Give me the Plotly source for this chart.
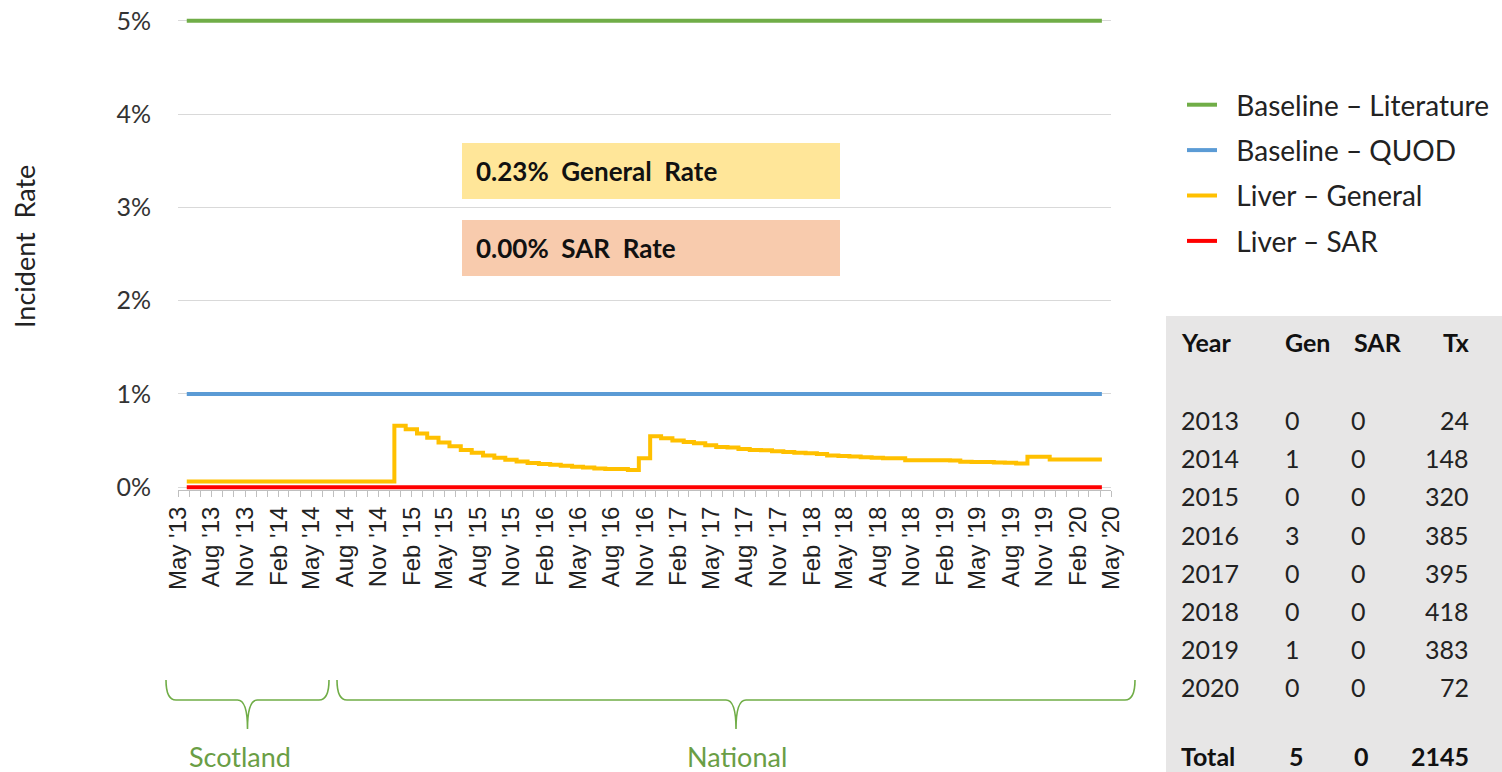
import plotly.graph_objects as go

# ---------------- data ----------------
month_dates = (["2013-05-25"]
               + [f"{y}-{m:02d}-15" for y in range(2013, 2021) for m in range(1, 13)
                  if (y, m) >= (2013, 6) and (y, m) <= (2020, 3)]
               + ["2020-04-06"])

general_rate = [0.06] * 19 + [
    0.66, 0.62, 0.575, 0.53, 0.48, 0.44, 0.40, 0.37, 0.34, 0.315,
    0.295, 0.275, 0.26, 0.25, 0.24, 0.23, 0.22, 0.21, 0.20, 0.195,
    0.195, 0.185,
    0.31,
    0.545, 0.525, 0.50, 0.485, 0.47, 0.45, 0.43, 0.425, 0.41, 0.40,
    0.395, 0.385, 0.378, 0.37, 0.363, 0.355, 0.34, 0.335, 0.33, 0.32,
    0.315, 0.31, 0.31, 0.29, 0.29, 0.29, 0.29, 0.285, 0.272, 0.27,
    0.27, 0.265, 0.262, 0.255,
    0.326, 0.326, 0.297, 0.297, 0.297, 0.297, 0.297,
    0.297,
]

baseline_dates = ["2013-05-25", "2020-04-06"]
baseline_literature = [5.0, 5.0]
baseline_quod = [1.0, 1.0]
sar_rate = [0.0, 0.0]

y_tick_values = [0, 1, 2, 3, 4, 5]
y_tick_labels = ["0%", "1%", "2%", "3%", "4%", "5%"]

series_names = ["Baseline \u2013 Literature", "Baseline \u2013 QUOD",
                "Liver \u2013 General", "Liver \u2013 SAR"]
series_colors = ["#70AD47", "#5B9BD5", "#FFC000", "#FF0000"]

general_rate_label = "0.23%  General  Rate"
sar_rate_label = "0.00%  SAR  Rate"

table_header = ["Year", "Gen", "SAR", "Tx"]
table_years = ["2013", "2014", "2015", "2016", "2017", "2018", "2019", "2020"]
table_gen = [0, 1, 0, 3, 0, 0, 1, 0]
table_sar = [0, 0, 0, 0, 0, 0, 0, 0]
table_tx = [24, 148, 320, 385, 395, 418, 383, 72]
table_total = ["Total", 5, 0, 2145]

region_labels = ["Scotland", "National"]

# ---------------- layout helpers (pixel -> paper) ----------------
L, W, T, H = 178, 933, 18, 472
def px(x):
    return (x - L) / W
def py(y):
    return (T + H - y) / H

FONT = "Lato"
fig = go.Figure()

ys = [baseline_literature, baseline_quod, general_rate, sar_rate]
xs = [baseline_dates, baseline_dates, month_dates, baseline_dates]
for i, (nm, col) in enumerate(zip(series_names, series_colors)):
    fig.add_trace(go.Scatter(
        x=xs[i], y=ys[i], name="&nbsp;&nbsp;" + nm, mode="lines",
        line=dict(color=col, width=4, shape="hv"),
        legendgroup=f"g{i}",
    ))

shapes = []
annotations = []

# rate boxes
box_fills = ["#FFE699", "#F8CBAD"]
box_tops = [143, 220]
for lab, fill, top in zip([general_rate_label, sar_rate_label], box_fills, box_tops):
    shapes.append(dict(type="rect", xref="paper", yref="paper",
                       x0=px(462), x1=px(840), y0=py(top), y1=py(top + 56),
                       fillcolor=fill, line=dict(width=0), layer="above"))
    annotations.append(dict(xref="paper", yref="paper", x=px(474), y=py(top + 28),
                            xanchor="left", yanchor="middle", showarrow=False,
                            text=f"<b>{lab}</b>",
                            font=dict(family=FONT, size=26, color="#111111")))

# y-axis title
annotations.append(dict(xref="paper", yref="paper", x=px(24), y=py(247),
                        xanchor="center", yanchor="middle", showarrow=False,
                        text="Incident  Rate", textangle=-90,
                        font=dict(family=FONT, size=27, color="#222222")))

# table background
shapes.append(dict(type="rect", xref="paper", yref="paper",
                   x0=px(1166), x1=px(1510), y0=py(316), y1=py(780),
                   fillcolor="#E7E6E6", line=dict(width=0), layer="below"))

col_x = [(1179, "left"), (1292, "center"), (1358, "center"), (1471, "right")]
hdr_x = [(1179, "left"), (1307, "center"), (1378, "center"), (1471, "right")]
for (xx, anc), t in zip(hdr_x, table_header):
    annotations.append(dict(xref="paper", yref="paper", x=px(xx), y=py(342),
                            xanchor=anc, yanchor="middle", showarrow=False,
                            text=f"<b>{t}</b>",
                            font=dict(family=FONT, size=25, color="#111111")))
row_y0, row_dy = 420, 38.2
for r, (yr, g, s, tx) in enumerate(zip(table_years, table_gen, table_sar, table_tx)):
    yy = row_y0 + r * row_dy
    for (xx, anc), t in zip(col_x, [yr, g, s, tx]):
        annotations.append(dict(xref="paper", yref="paper", x=px(xx), y=py(yy),
                                xanchor=anc, yanchor="middle", showarrow=False,
                                text=str(t),
                                font=dict(family=FONT, size=25, color="#222222")))
tot_x = [(1179, "left"), (1296, "center"), (1361, "center"), (1471, "right")]
for (xx, anc), t in zip(tot_x, table_total):
    annotations.append(dict(xref="paper", yref="paper", x=px(xx), y=py(756),
                            xanchor=anc, yanchor="middle", showarrow=False,
                            text=f"<b>{t}</b>",
                            font=dict(family=FONT, size=25, color="#111111")))

# region braces
def brace(x0, x1, top=680, mid=700, tip=729):
    c = (x0 + x1) / 2
    pts = (f"M {px(x0)},{py(top)} Q {px(x0)},{py(mid)} {px(x0+10)},{py(mid)} "
           f"L {px(c-10)},{py(mid)} Q {px(c)},{py(mid)} {px(c)},{py(tip)} "
           f"Q {px(c)},{py(mid)} {px(c+10)},{py(mid)} "
           f"L {px(x1-10)},{py(mid)} Q {px(x1)},{py(mid)} {px(x1)},{py(top)}")
    return dict(type="path", xref="paper", yref="paper", path=pts,
                line=dict(color="#70AD47", width=1.6))

for (x0, x1), lab, lx in zip([(166, 329), (337, 1135)], region_labels, [240, 737]):
    shapes.append(brace(x0, x1))
    annotations.append(dict(xref="paper", yref="paper", x=px(lx), y=py(756),
                            xanchor="center", yanchor="middle", showarrow=False,
                            text=lab, font=dict(family=FONT, size=27, color="#6A9E45")))

fig.update_layout(
    width=1502, height=772,
    margin=dict(l=L, r=1502 - L - W, t=T, b=772 - T - H, pad=0, autoexpand=False),
    paper_bgcolor="white", plot_bgcolor="white",
    showlegend=True,
    legend=dict(x=px(1182), y=py(80), xanchor="left", yanchor="top",
                font=dict(family=FONT, size=28, color="#222222"),
                tracegroupgap=6, bgcolor="rgba(0,0,0,0)"),
    xaxis=dict(type="date", range=["2013-05-01", "2020-05-01"],
               tick0="2013-05-01", dtick="M3", tickformat="%b '%y",
               tickangle=-90, ticks="outside", ticklen=6, tickcolor="#BFBFBF",
               minor=dict(dtick="M1", ticks="outside", ticklen=6, tickcolor="#BFBFBF",
                          showgrid=False),
               showgrid=False, showline=True, linecolor="#BFBFBF", linewidth=1,
               zeroline=False, automargin=False,
               tickfont=dict(family="Liberation Sans", size=24, color="#222222")),
    yaxis=dict(range=[-0.03, 5.03], tickmode="array",
               tickvals=y_tick_values, ticktext=y_tick_labels,
               showgrid=True, gridcolor="#D9D9D9", gridwidth=1,
               zeroline=False, showline=False, ticks="", automargin=False,
               ticklabelstandoff=26,
               tickfont=dict(family=FONT, size=25, color="#333333")),
    shapes=shapes,
    annotations=annotations,
)

fig.write_html("out.html", config={"displayModeBar": False},
               post_script="document.body.style.margin='0';document.body.style.overflow='hidden';")
